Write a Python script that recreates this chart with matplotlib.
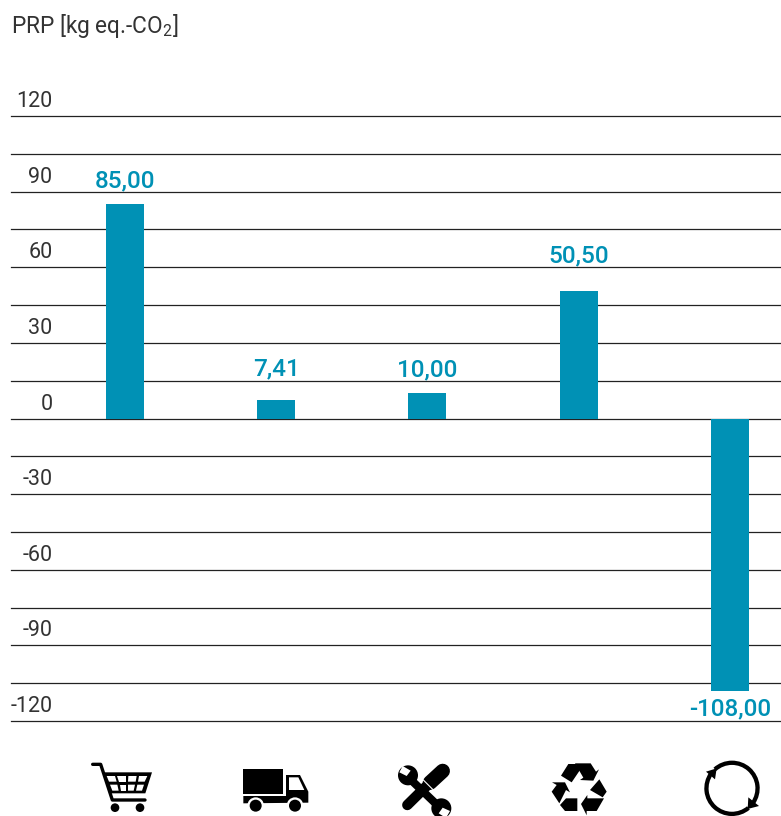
#!/usr/bin/python3
import numpy as np
from matplotlib import pyplot as plt
from matplotlib.patches import Circle, Polygon, Wedge

plt.rcParams['font.family'] = ['Roboto', 'DejaVu Sans']
plt.rcParams['mathtext.default'] = 'regular'

values = [85.00, 7.41, 10.00, 50.50, -108.00]
value_labels = ['85,00', '7,41', '10,00', '50,50', '-108,00']
grid_values = np.arange(-120, 121, 15)
tick_values = [120, 90, 60, 30, 0, -30, -60, -90, -120]

# label baseline offset from the bar end, pixels
label_offsets = [17, 24, 17, 29, -25]

W, H = 781, 816
BLUE = '#0091b5'
DARK = '#333333'

fig = plt.figure(figsize=(W / 100, H / 100), dpi=100)
ax = fig.add_axes([11 / W, 1 - 721 / H, (W - 11) / W, (721 - 116) / H])
ax.set_xlim(-0.754, 4.339)
ax.set_ylim(-120, 120)
ax.axis('off')

for g in grid_values:
    ax.axhline(g, color='#222222', lw=0.9, zorder=1, clip_on=False)

x = np.arange(len(values))
ax.bar(x, values, width=0.251, color=BLUE, zorder=2)

# tick labels sit just above their grid line
for t in tick_values:
    ax.annotate(str(t), (0, t), xycoords=('axes fraction', 'data'), xytext=(41.5, 9),
                textcoords='offset pixels', ha='right', va='baseline',
                fontsize=15.5, color=DARK)

for xi, v, lab, off in zip(x, values, value_labels, label_offsets):
    ax.annotate(lab, (xi, v), xytext=(0, off), textcoords='offset pixels',
                ha='center', va='baseline',
                fontsize=17.5, fontweight='medium', color=BLUE, zorder=3)

fig.text(11 / W, 1 - 33 / H, 'PRP [kg eq.-CO$_2$]', fontsize=16.3, color=DARK,
         ha='left', va='baseline')

# overlay in pixel coords for the icons below the chart
ov = fig.add_axes([0, 0, 1, 1])
ov.set_xlim(0, W)
ov.set_ylim(H, 0)
ov.axis('off')
ov.patch.set_alpha(0)


def zpoly(points, ox, color='black', z=4):
    pts = [(ox + px / 3, 740 + py / 3) for px, py in points]
    ov.add_patch(Polygon(pts, closed=True, fc=color, ec='none', zorder=z))


def zline(points, ox, lw, color='black', z=4):
    xs = [ox + p[0] / 3 for p in points]
    ys = [740 + p[1] / 3 for p in points]
    ov.plot(xs, ys, color=color, lw=lw, solid_capstyle='round', solid_joinstyle='round', zorder=z)


def zcircle(cx, cy, r, ox, color='black', z=5):
    ov.add_patch(Circle((ox + cx / 3, 740 + cy / 3), r / 3, fc=color, ec='none', zorder=z))


# cart
zline([(98, 73), (122, 73), (157, 180), (255, 180)], 60, 2.4)
zpoly([(133, 97), (276, 97), (256, 160), (150, 160)], 60)
for cell in [
    [(140, 108), (165, 108), (170, 125), (147, 125)],
    [(172, 108), (197, 108), (197, 125), (176, 125)],
    [(205, 108), (230, 108), (227, 125), (204, 125)],
    [(237, 108), (262, 108), (254, 125), (234, 125)],
    [(150, 134), (172, 134), (176, 152), (157, 152)],
    [(179, 134), (197, 134), (197, 152), (183, 152)],
    [(204, 134), (225, 134), (221, 152), (204, 152)],
    [(232, 134), (252, 134), (246, 152), (228, 152)],
]:
    zpoly(cell, 60, 'white')
zcircle(165, 203, 13, 60)
zcircle(240, 203, 13, 60)

# truck
zpoly([(550, 88), (670, 88), (670, 162), (550, 162)], 60)
zpoly([(550, 168), (678, 168), (678, 105), (720, 105), (745, 155), (745, 188), (550, 190)], 60)
zpoly([(687, 112), (715, 112), (733, 150), (687, 150)], 60, 'white')
for c in (587, 705):
    zcircle(c, 197, 25, 60, 'white')
    zcircle(c, 197, 18, 60)

# tools
OX = 380
zline([(188, 93), (150, 128)], OX, 10.5)
zline([(150, 128), (82, 195)], OX, 7.5)
zline([(85, 112), (182, 205)], OX, 5.8)
zcircle(84, 106, 30, OX, z=4)
zcircle(184, 205, 30, OX, z=4)
zpoly([(58, 97), (80, 108), (92, 92), (68, 78)], OX, 'white', z=6)
zpoly([(210, 213), (188, 203), (176, 220), (198, 234)], OX, 'white', z=6)
zline([(128, 118), (165, 155)], OX, 0.8, 'white', z=7)

# recycling arrows
zpoly([(565, 72), (588, 72), (600, 90), (575, 127), (543, 107)], OX)
zpoly([(585, 70), (632, 70), (648, 95), (657, 88), (640, 122), (600, 120), (610, 113)], OX)
zpoly([(658, 118), (680, 155), (668, 172), (630, 150)], OX)
zpoly([(672, 175), (650, 213), (620, 213), (620, 226), (603, 192), (622, 165), (622, 175)], OX)
zpoly([(592, 175), (592, 213), (555, 213), (540, 195), (558, 175)], OX)
zpoly([(516, 127), (555, 127), (570, 157), (558, 150), (538, 190), (515, 155), (530, 135)], OX)

# cycle icon, y axis is flipped so angles run clockwise on screen
cx, cy = OX + 1056 / 3, 740 + 145 / 3
ov.add_patch(Wedge((cx, cy), 27.7, 228, 395, width=4.3, fc='black', ec='none'))
ov.add_patch(Wedge((cx, cy), 27.7, 50, 215, width=4.3, fc='black', ec='none'))
zpoly([(978, 95), (1010, 85), (1005, 118)], OX)
zpoly([(1137, 198), (1103, 207), (1105, 172)], OX)

fig.savefig('out.png', dpi=100)
